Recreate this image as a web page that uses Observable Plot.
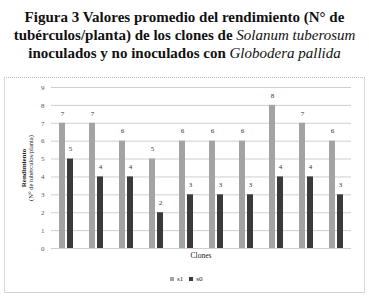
<!DOCTYPE html>
<html>
<head>
<meta charset="utf-8">
<script src="https://cdn.jsdelivr.net/npm/d3@7"></script>
<script src="https://cdn.jsdelivr.net/npm/@observablehq/plot@0.6"></script>
<style>
  html, body { margin: 0; padding: 0; background: #fff; }
  body { width: 369px; height: 297px; position: relative; overflow: hidden; font-family: "Liberation Serif", "DejaVu Serif", serif; }
  #title { position: absolute; left: 0; top: 8px; width: 369px; text-align: center; font-weight: bold; font-size: 15px; line-height: 18px; color: #111; }
  #title i { font-weight: normal; }
  #frame { position: absolute; left: 4px; top: 77px; width: 359px; height: 214px; border: 1px solid #d6d6d6; border-top: 1px dotted #b8b8b8; }
  #chart { position: absolute; left: 0; top: 77px; }
  #ylab { position: absolute; left: 27px; top: 168px; transform: translate(-50%, -50%) rotate(-90deg); text-align: center; font-size: 6.5px; line-height: 6.5px; color: #222; white-space: nowrap; }
  #ylab b { font-size: 7px; }
  #xlab { position: absolute; left: 201px; top: 251px; transform: translateX(-50%); font-size: 7.5px; color: #222; }
  #legend { position: absolute; left: 170px; top: 275px; font-size: 7px; color: #222; display: flex; align-items: center; gap: 3px; }
  #legend span.sw { display: inline-block; width: 4px; height: 4px; }
</style>
</head>
<body>
<div id="title">Figura 3 Valores promedio del rendimiento (N° de<br>tubérculos/planta) de los clones de <i>Solanum tuberosum</i><br>inoculados y no inoculados con <i>Globodera pallida</i></div>
<div id="frame"></div>
<div id="chart"></div>
<div id="ylab"><b>Rendimiento</b><br>(N° de tubérculos/planta)</div>
<div id="xlab">Clones</div>
<div id="legend"></div>
<script>
const clones = ["C1","C2","C3","C4","C5","C6","C7","C8","C9","C10"];
const seriesNames = ["s1","s0"];
const s1Values = [7,7,6,5,6,6,6,8,7,6];
const s0Values = [5,4,4,2,3,3,3,4,4,3];
const yTicks = [0,1,2,3,4,5,6,7,8,9];
const seriesColors = ["#a3a3a3","#3a3a3a"];

const data = [];
clones.forEach((c, i) => {
  data.push({clone: c, serie: "s1", value: s1Values[i]});
  data.push({clone: c, serie: "s0", value: s0Values[i]});
});

const plot = Plot.plot({
  width: 369,
  height: 220,
  marginLeft: 49,
  marginRight: 16,
  marginTop: 10,
  marginBottom: 49,
  style: {fontFamily: "Liberation Serif, serif", background: "transparent"},
  fx: {domain: clones, padding: 0, axis: null},
  x: {domain: seriesNames, paddingInner: 0.22, paddingOuter: 0.8, axis: null},
  y: {domain: [0, 9], ticks: yTicks, label: null},
  color: {domain: seriesNames, range: seriesColors},
  marks: [
    Plot.gridY(yTicks, {stroke: "#cfcfcf", strokeOpacity: 1}),
    Plot.axisY(yTicks, {tickSize: 0, tickPadding: 7, fontSize: 7, fill: "#555", label: null, tickFormat: d => String(d)}),
    Plot.barY(data, {fx: "clone", x: "serie", y: "value", fill: "serie"}),
    Plot.text(data, {fx: "clone", x: "serie", y: "value", text: d => String(d.value), dy: -10, fontSize: 7, fill: "#333"})
  ]
});
document.getElementById("chart").appendChild(plot);

const leg = document.getElementById("legend");
seriesNames.forEach((s, i) => {
  const sw = document.createElement("span");
  sw.className = "sw";
  sw.style.background = seriesColors[i];
  leg.appendChild(sw);
  const t = document.createElement("span");
  t.textContent = s;
  t.style.marginRight = "3px";
  leg.appendChild(t);
});
</script>
</body>
</html>
